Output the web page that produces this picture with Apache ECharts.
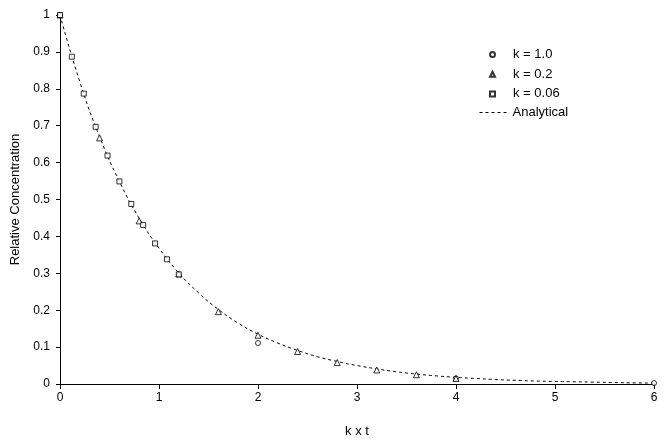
<!DOCTYPE html>
<html><head><meta charset="utf-8">
<script src="https://cdn.jsdelivr.net/npm/echarts@6/dist/echarts.min.js"></script>
<style>html,body{margin:0;padding:0;background:#fff}#c{width:667px;height:448px}</style>
</head><body><div id="c"></div>
<script>
var k1X = [0, 2, 4, 6];
var k1Y = [1.0, 0.111, 0.015, 0.0025];
var k02X = [0, 0.4, 0.8, 1.2, 1.6, 2.0, 2.4, 2.8, 3.2, 3.6, 4.0];
var k02Y = [1.0, 0.667, 0.442, 0.298, 0.196, 0.132, 0.088, 0.058, 0.038, 0.025, 0.015];
var k006X = [0, 0.12, 0.24, 0.36, 0.48, 0.6, 0.72, 0.84, 0.96, 1.08, 1.2];
var k006Y = [1.0, 0.887, 0.787, 0.697, 0.619, 0.549, 0.488, 0.431, 0.381, 0.338, 0.297];
var anaX = [0,0.2,0.4,0.6,0.8,1.0,1.2,1.4,1.6,1.8,2.0,2.2,2.4,2.6,2.8,3.0,3.2,3.4,3.6,3.8,4.0,4.2,4.4,4.6,4.8,5.0,5.2,5.4,5.6,5.8,6.0];
var anaY = [1.0,0.819,0.670,0.549,0.449,0.368,0.301,0.247,0.202,0.165,0.135,0.111,0.091,0.074,0.061,0.050,0.041,0.033,0.027,0.022,0.018,0.015,0.012,0.010,0.008,0.007,0.006,0.005,0.004,0.003,0.0025];
var names = ['k = 1.0', 'k = 0.2', 'k = 0.06', 'Analytical'];

function pairs(xs, ys){ return xs.map(function(x,i){ return [x, ys[i]]; }); }
var font = 'Liberation Sans, Arial, sans-serif';
var mk = {color:'#fff', borderColor:'#000', borderWidth:1};
var chart = echarts.init(document.getElementById('c'));
chart.setOption({
  animation:false,
  textStyle:{fontFamily:font, color:'#000'},
  grid:{left:60, right:13, top:15, bottom:64},
  legend:[{
    orient:'vertical', left:489, top:47, padding:0, itemWidth:5, itemHeight:5, itemGap:4.7,
    textStyle:{fontFamily:font, fontSize:13, color:'#000', lineHeight:15, padding:[0,0,0,13]},
    data:[names[0], names[1], names[2]]
  },{
    orient:'vertical', left:479, top:105, padding:0, itemWidth:28, itemHeight:6,
    lineStyle:{type:[3,3], width:1, color:'#000'},
    textStyle:{fontFamily:font, fontSize:13, color:'#000', lineHeight:15, padding:[0,0,0,0]},
    data:[{name:names[3], itemStyle:{opacity:0}}]
  }],
  xAxis:{
    type:'value', min:0, max:6, interval:1,
    name:'k x t', nameLocation:'middle', nameGap:41,
    nameTextStyle:{fontFamily:font, fontSize:13, color:'#000'},
    axisLine:{lineStyle:{color:'#000', width:1}},
    axisTick:{show:true, length:5, lineStyle:{color:'#000'}},
    axisLabel:{fontFamily:font, fontSize:12, color:'#000', margin:8},
    splitLine:{show:false}
  },
  yAxis:{
    type:'value', min:0, max:1, interval:0.1,
    name:'Relative Concentration', nameLocation:'middle', nameGap:38,
    nameTextStyle:{fontFamily:font, fontSize:13, color:'#000'},
    axisLine:{show:true, lineStyle:{color:'#000', width:1}},
    axisTick:{show:true, length:4, lineStyle:{color:'#000'}},
    axisLabel:{fontFamily:font, fontSize:12, color:'#000', margin:10,
      formatter:function(v){ return String(Math.round(v*10)/10); }},
    splitLine:{show:false}
  },
  series:[
    {name:names[3], type:'line', data:pairs(anaX, anaY), smooth:true, showSymbol:false, symbol:'none',
      lineStyle:{color:'#000', width:1, type:[3,3]}, itemStyle:{color:'#000'}, z:1},
    {name:names[0], type:'scatter', data:pairs(k1X, k1Y), symbol:'circle', symbolSize:5, itemStyle:mk, z:3},
    {name:names[1], type:'scatter', data:pairs(k02X, k02Y), symbol:'triangle', symbolSize:6, itemStyle:mk, z:3},
    {name:names[2], type:'scatter', data:pairs(k006X, k006Y), symbol:'rect', symbolSize:5, itemStyle:mk, z:3}
  ]
});
</script></body></html>
